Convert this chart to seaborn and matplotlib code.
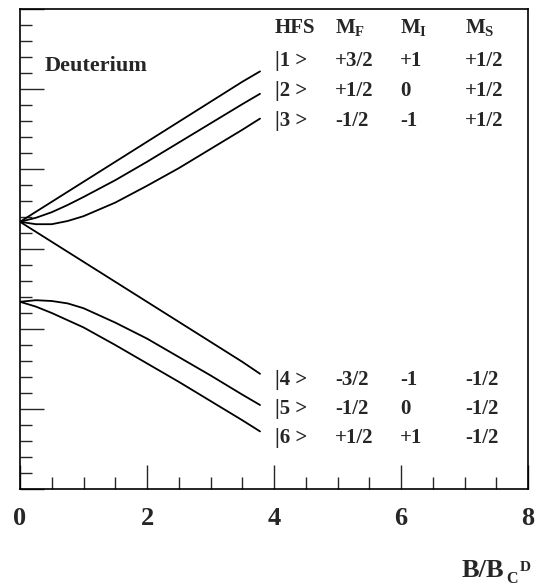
import matplotlib
matplotlib.use("Agg")
import matplotlib.pyplot as plt
from matplotlib.ticker import MultipleLocator, NullFormatter
import seaborn as sns
import pandas as pd

# ---- data ----
b_field = [0.0, 0.25, 0.5, 0.75, 1.0, 1.5, 2.0, 2.5, 3.0, 3.5, 3.78]
state1 = [0.34, 0.465, 0.59, 0.715, 0.84, 1.09, 1.34, 1.59, 1.84, 2.09, 2.22]
state2 = [0.34, 0.39, 0.46, 0.55, 0.65, 0.86, 1.09, 1.33, 1.57, 1.81, 1.94]
state3 = [0.34, 0.31, 0.31, 0.35, 0.41, 0.58, 0.79, 1.01, 1.25, 1.49, 1.63]
state4 = [0.34, 0.215, 0.09, -0.035, -0.16, -0.41, -0.66, -0.91, -1.16, -1.41, -1.56]
state5 = [-0.66, -0.64, -0.65, -0.68, -0.74, -0.92, -1.12, -1.35, -1.58, -1.82, -1.95]
state6 = [-0.66, -0.72, -0.80, -0.89, -0.98, -1.20, -1.43, -1.66, -1.90, -2.14, -2.28]
states = ["|1 >", "|2 >", "|3 >", "|4 >", "|5 >", "|6 >"]
m_f = ["+3/2", "+1/2", "-1/2", "-3/2", "-1/2", "+1/2"]
m_i = ["+1", "0", "-1", "-1", "0", "+1"]
m_s = ["+1/2", "+1/2", "+1/2", "-1/2", "-1/2", "-1/2"]
header = ["HFS", r"M$_\mathrm{F}$", r"M$_\mathrm{I}$", r"M$_\mathrm{S}$"]
x_ticks = [0, 2, 4, 6, 8]

curves = [state1, state2, state3, state4, state5, state6]
df = pd.DataFrame({
    "B": b_field * len(curves),
    "E": [v for c in curves for v in c],
    "state": [s for s, c in zip(states, curves) for _ in c],
})

sns.set_style("ticks")
plt.rcParams["font.family"] = ["Liberation Serif", "DejaVu Serif"]
plt.rcParams["font.weight"] = "bold"
plt.rcParams["mathtext.fontset"] = "custom"
plt.rcParams["mathtext.rm"] = "Liberation Serif:bold"
plt.rcParams["mathtext.it"] = "Liberation Serif:bold"
plt.rcParams["mathtext.bf"] = "Liberation Serif:bold"

W, H = 544, 588
fig = plt.figure(figsize=(W / 100, H / 100), dpi=100)
ax = fig.add_axes([20 / W, 1 - 489 / H, 508 / W, 480 / H])

sns.lineplot(data=df, x="B", y="E", hue="state", units="state", estimator=None,
             palette=["black"] * 6, legend=False, linewidth=1.3, ax=ax)

ax.set_xlim(0, 8)
ax.set_ylim(-3, 3)
ax.set_xticks(x_ticks)
ax.set_xticklabels([str(t) for t in x_ticks], fontsize=19, fontweight="bold")
ax.xaxis.set_minor_locator(MultipleLocator(0.5))
ax.yaxis.set_major_locator(MultipleLocator(1))
ax.yaxis.set_minor_locator(MultipleLocator(0.2))
ax.yaxis.set_major_formatter(NullFormatter())
ax.tick_params(axis="both", which="major", direction="in", length=17, width=1.0,
               top=False, right=False)
ax.tick_params(axis="both", which="minor", direction="in", length=8.5, width=1.0,
               top=False, right=False)
ax.tick_params(axis="x", which="major", pad=13)
ax.set_xlabel("")
ax.set_ylabel("")
for sp in ax.spines.values():
    sp.set_visible(True)
    sp.set_linewidth(1.2)
    sp.set_color("black")

def ftext(px, py, s, **kw):
    fig.text(px / W, 1 - py / H, s, fontweight="bold", **kw)

ftext(45, 66, "Deuterium", fontsize=16, va="center", ha="left")

# axis label B/B_C^D
ftext(462, 577, "B/B", fontsize=19, va="baseline", ha="left")
ftext(506, 583, "C", fontsize=11.5, va="baseline", ha="left")
ftext(520, 561, "D", fontsize=11, va="top", ha="left")

cols = [275, 335, 400, 465]
for c, h in zip(cols, header):
    ftext(c, 28, h, fontsize=15, va="center")
rows_y = [61, 91, 121, 380, 409, 438]
for i, y in enumerate(rows_y):
    ftext(cols[0], y, states[i], fontsize=15, va="center")
    ftext(cols[1], y, m_f[i], fontsize=15, va="center")
    ftext(cols[2], y, m_i[i], fontsize=15, va="center")
    ftext(cols[3], y, m_s[i], fontsize=15, va="center")

fig.savefig("out.png", dpi=100, facecolor="white")
